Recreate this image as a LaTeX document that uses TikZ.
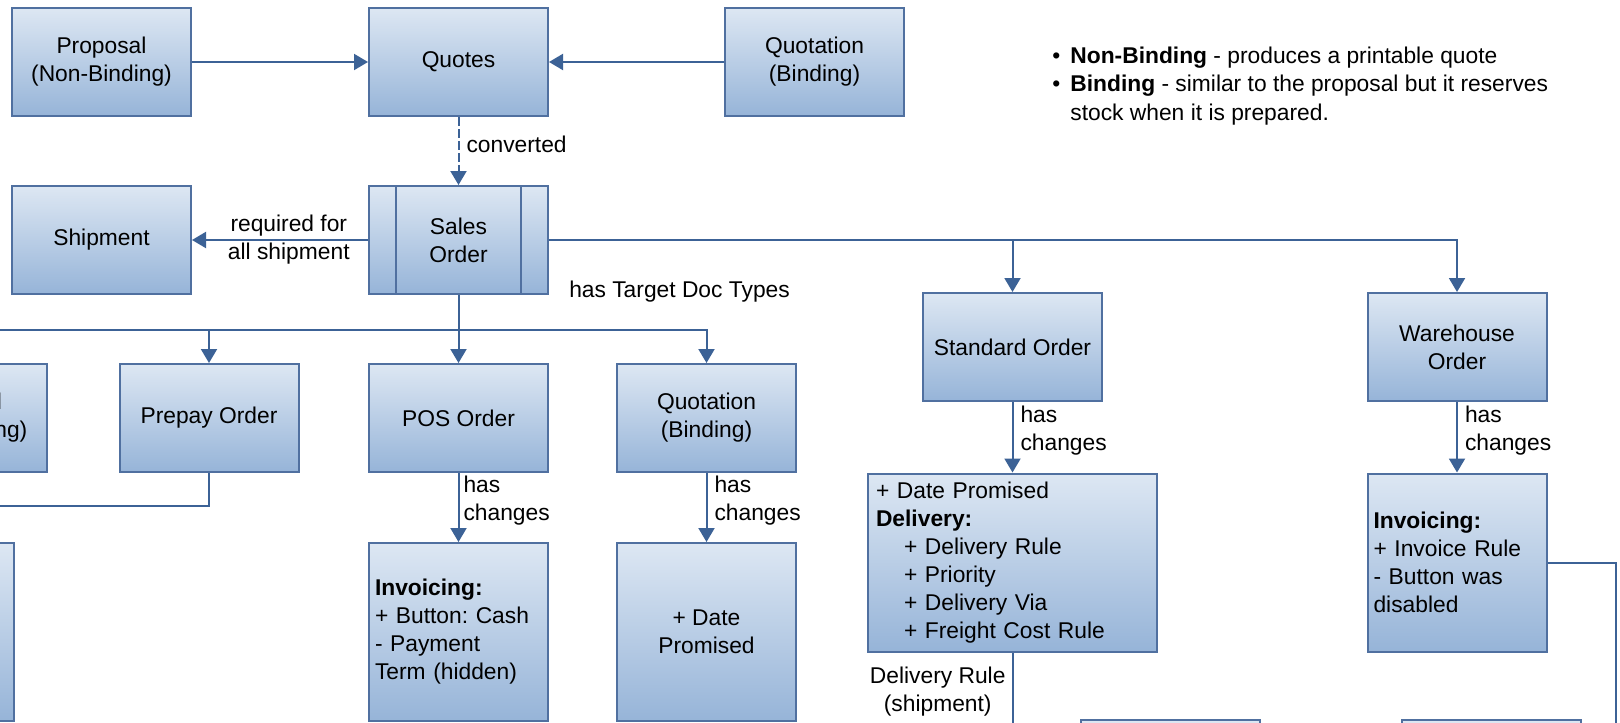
\documentclass[tikz,border=0pt]{standalone}
\usepackage{fontspec}
\setmainfont{Liberation Sans}
\usetikzlibrary{arrows.meta}
\frenchspacing

\definecolor{boxline}{RGB}{80,112,160}
\definecolor{boxtop}{RGB}{221,231,243}
\definecolor{boxbot}{RGB}{150,180,216}
\definecolor{linkblue}{RGB}{60,98,150}
\newcommand{\diagfont}{\fontsize{11.4pt}{14pt}\selectfont}

\begin{document}
\begin{tikzpicture}[x=0.5pt, y=-0.5pt]
        \tikzstyle{doc}=[draw=boxline, line width=1pt, top color=boxtop, bottom color=boxbot, minimum width=89.5pt, minimum height=54pt, inner sep=3pt, align=center, font=\diagfont];
        \tikzstyle{tall}=[doc, minimum height=89pt];
        \tikzstyle{link}=[draw=linkblue, line width=1pt];
        \tikzstyle{arr}=[link, -{Triangle[width=8pt, length=7pt]}];
        \tikzstyle{lbl}=[font=\diagfont, inner sep=1pt, align=left];
        \tikzstyle{chg}=[lbl, anchor=west, pos=0.4, xshift=2.5pt];

        \useasboundingbox (0, 0) rectangle (1620, 722);
        \clip (0, 0) rectangle (1620, 722);
        \fill[white] (0, 0) rectangle (1620, 722);

        \node (prop) at (101.5, 62) [doc] {Proposal\\(Non-Binding)};
        \node (quotes) at (458.5, 62) [doc] {Quotes};
        \node (quotbind) at (814.5, 62) [doc] {Quotation\\(Binding)};
        \node (legend) at (1050, 86) [lbl, anchor=west, font=\fontsize{11.4pt}{14.4pt}\selectfont] {\textbullet\hspace{5pt}\textbf{Non-Binding} - produces a printable quote\\\textbullet\hspace{5pt}\textbf{Binding} - similar to the proposal but it reserves\\\hphantom{\textbullet\hspace{5pt}}stock when it is prepared.};

        \node (ship) at (101.5, 240) [doc] {Shipment};
        \node (sales) at (458.5, 240) [doc] {Sales\\Order};
        \draw[draw=boxline, line width=1pt] ([xshift=14pt]sales.north west) -- ([xshift=14pt]sales.south west);
        \draw[draw=boxline, line width=1pt] ([xshift=-14pt]sales.north east) -- ([xshift=-14pt]sales.south east);

        \node (lcut) at (-43, 418) [doc] {Proposal\\(Non-Binding)};
        \node (prepay) at (209, 418) [doc] {Prepay Order};
        \node (pos) at (458.5, 418) [doc] {POS Order};
        \node (quotb2) at (706.5, 418) [doc] {Quotation\\(Binding)};

        \node (llow) at (-75.5, 632) [tall] {};
        \node (posinv) at (458.5, 632) [tall, text width=83.5pt, align=left] {\textbf{Invoicing:}\\+ Button: Cash\\- Payment\\Term (hidden)};
        \node (datep) at (706.5, 632) [tall] {+ Date\\Promised};

        \node (std) at (1012.5, 347) [doc] {Standard Order};
        \node (whs) at (1457, 347) [doc] {Warehouse\\Order};
        \node (deliv) at (1012.5, 562.5) [tall, minimum width=144.5pt, inner sep=4pt, text width=136.5pt, align=left] {+ Date Promised\\\textbf{Delivery:}\\\hspace*{14pt}+ Delivery Rule\\\hspace*{14pt}+ Priority\\\hspace*{14pt}+ Delivery Via\\\hspace*{14pt}+ Freight Cost Rule};
        \node (whsinv) at (1457, 562.5) [tall, text width=83.5pt, align=left] {\textbf{Invoicing:}\\+ Invoice Rule\\- Button was\\disabled};
        \node (nextA) at (1170.5, 774) [doc] {};
        \node (nextB) at (1491.5, 774) [doc] {};

        \draw (prop) edge[arr] (quotes);
        \draw (quotbind) edge[arr] (quotes);
        \draw (quotes) edge[arr, dash pattern=on 4.5pt off 1.5pt] node[chg] {converted} (sales);
        \draw (sales) edge[arr] node[lbl, align=center, pos=0.45] {required for\\all shipment} (ship);

        \coordinate (bus) at (458.5, 330);
        \draw[link] (sales.south) -- (bus);
        \draw[arr] (bus) -- (pos.north);
        \draw[arr] (bus) -| (prepay.north);
        \draw[arr] (bus) -| (quotb2.north);
        \draw[arr] (bus) -| (lcut.north);
        \draw[arr] (sales.east) -| (std.north);
        \draw[arr] (sales.east) -| (whs.north);
        \node (tgt) at (679.5, 292) [lbl] {has Target Doc Types};

        \draw (pos) edge[arr] node[chg, xshift=-1.5pt] {has\\changes} (posinv);
        \draw (quotb2) edge[arr] node[chg] {has\\changes} (datep);
        \draw (std) edge[arr] node[chg] {has\\changes} (deliv);
        \draw (whs) edge[arr] node[chg] {has\\changes} (whsinv);

        \coordinate (prepayend) at (-20, 506);
        \draw[link] (prepay.south) |- (prepayend);
        \coordinate (delivend) at (1012.5, 760);
        \draw (deliv) edge[link] node[lbl, align=center, anchor=east, pos=0.36, xshift=-2pt] {Delivery Rule\\(shipment)} (delivend);
        \coordinate (whsend) at (1616, 760);
        \draw[link] (whsinv.east) -| (whsend);
\end{tikzpicture}
\end{document}
